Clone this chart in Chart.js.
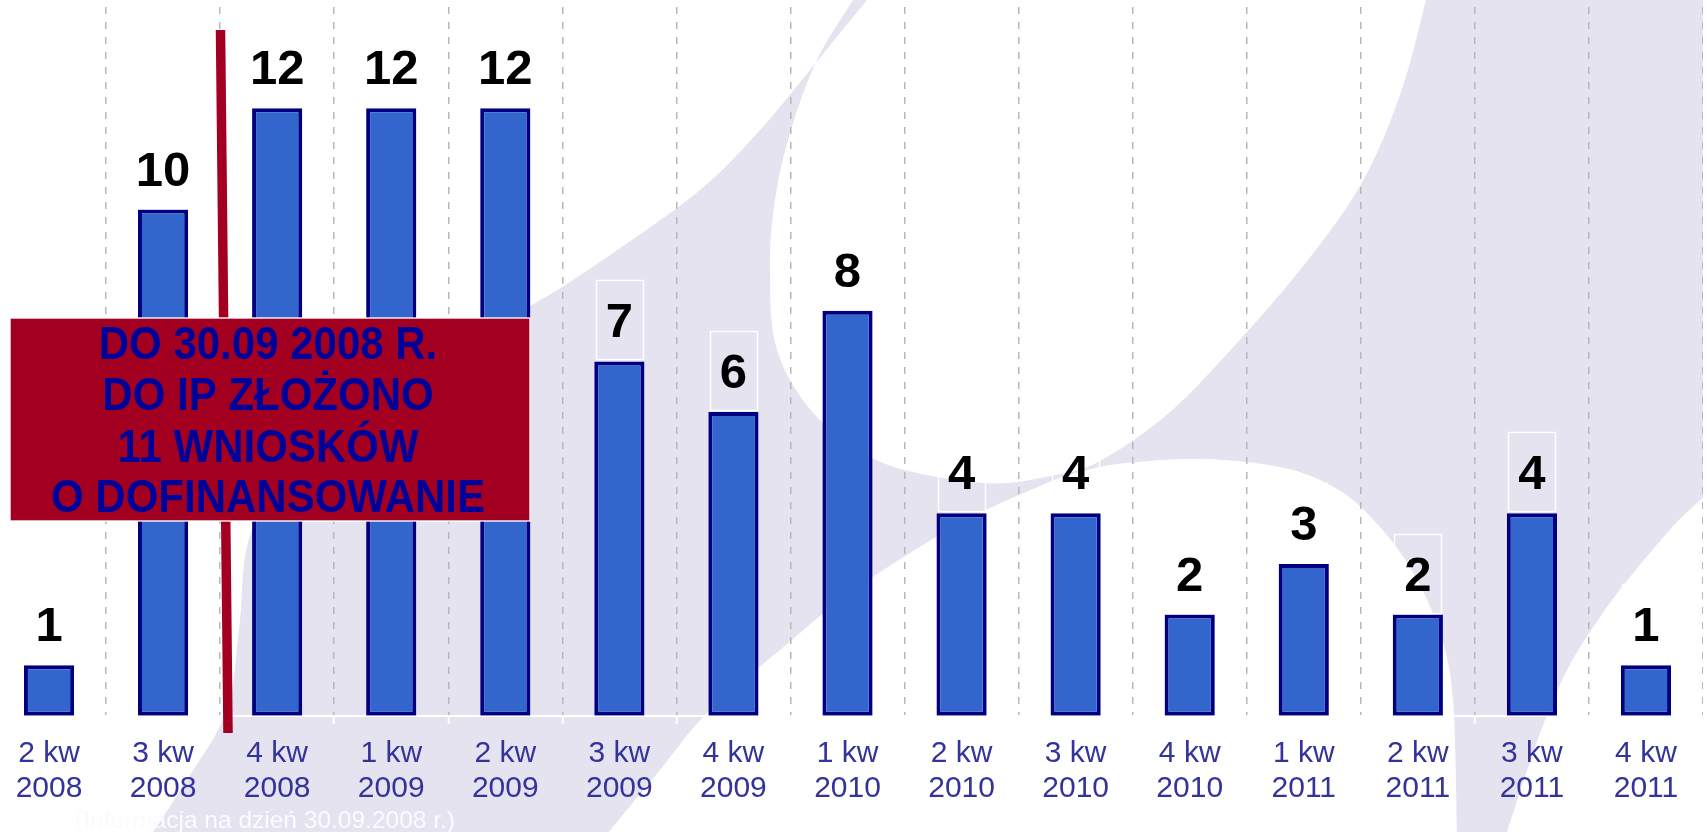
<!DOCTYPE html>
<html>
<head>
<meta charset="utf-8">
<script src="https://cdn.jsdelivr.net/npm/chart.js@4/dist/chart.umd.min.js"></script>
<style>
  html, body { margin: 0; padding: 0; background: #ffffff; overflow: hidden; }
  #wrap { position: absolute; left: -8px; top: 0; width: 1711px; height: 832px; }
  canvas { display: block; }
</style>
</head>
<body>
<div id="wrap"><canvas id="c" width="1711" height="832"></canvas></div>
<script>
// ---- data ----
const categories = [
  ["2 kw", "2008"], ["3 kw", "2008"], ["4 kw", "2008"], ["1 kw", "2009"], ["2 kw", "2009"],
  ["3 kw", "2009"], ["4 kw", "2009"], ["1 kw", "2010"], ["2 kw", "2010"], ["3 kw", "2010"],
  ["4 kw", "2010"], ["1 kw", "2011"], ["2 kw", "2011"], ["3 kw", "2011"], ["4 kw", "2011"]
];
const values = [1, 10, 12, 12, 12, 7, 6, 8, 4, 4, 2, 3, 2, 4, 1];
const noteLines = ["DO 30.09 2008 R.", "DO IP ZŁOŻONO", "11 WNIOSKÓW", "O DOFINANSOWANIE"];
const footnote = "(Informacja na dzień 30.09.2008 r.)";

const FONT = '"Liberation Sans", Arial, Helvetica, sans-serif';
const OFFSET_X = 8; // canvas x = page x + 8

function spline(ctx, pts, move) {
  if (move) ctx.moveTo(pts[0][0], pts[0][1]); else ctx.lineTo(pts[0][0], pts[0][1]);
  for (let i = 0; i < pts.length - 1; i++) {
    const p0 = pts[i - 1] || pts[i], p1 = pts[i], p2 = pts[i + 1], p3 = pts[i + 2] || pts[i + 1];
    ctx.bezierCurveTo(
      p1[0] + (p2[0] - p0[0]) / 6, p1[1] + (p2[1] - p0[1]) / 6,
      p2[0] - (p3[0] - p1[0]) / 6, p2[1] - (p3[1] - p1[1]) / 6,
      p2[0], p2[1]);
  }
}

const backgroundPlugin = {
  id: 'bgSwoosh',
  beforeDraw(chart) {
    const ctx = chart.ctx;
    ctx.save();
    ctx.translate(OFFSET_X, 0);
    ctx.fillStyle = '#ffffff';
    ctx.fillRect(-20, -20, 1760, 880);
    const c1 = [[880, -15], [867, 0], [810, 70], [760, 130], [700, 190], [610, 255], [530, 306],
                [420, 360], [310, 440], [252, 530], [240, 620], [232, 690], [218, 730], [190, 775], [153, 832], [130, 860]];
    const w1 = [[862, -15], [853, 0], [817, 60], [790, 133], [775, 200], [770, 267], [777, 350], [817, 417],
                [883, 463], [983, 483], [1050, 476], [1100, 461], [1170, 412], [1235, 345], [1300, 270],
                [1360, 186], [1400, 95], [1426, 0], [1430, -15]];
    ctx.beginPath();
    spline(ctx, c1, true);
    ctx.lineTo(1760, 860); ctx.lineTo(1760, -15); ctx.closePath();
    spline(ctx, w1, true);
    ctx.closePath();
    ctx.fillStyle = '#e6e3f0';
    ctx.fill('evenodd');
    const w2 = [[590, 860], [609, 832], [660, 770], [707, 713], [780, 650], [854, 590], [957, 525],
                [1040, 486], [1080, 472], [1126, 463], [1203, 459], [1280, 467], [1330, 485], [1367, 513],
                [1410, 567], [1440, 633], [1453, 700], [1457, 832], [1458, 860]];
    ctx.beginPath();
    spline(ctx, w2, true);
    ctx.closePath();
    ctx.fillStyle = '#ffffff';
    ctx.fill();
    const w3 = [[1730, 470], [1708, 493], [1667, 533], [1600, 617], [1553, 700], [1507, 832], [1500, 860]];
    ctx.beginPath();
    spline(ctx, w3, true);
    ctx.lineTo(1760, 860); ctx.lineTo(1760, 470); ctx.closePath();
    ctx.fill();
    ctx.restore();
  }
};

const labelPlugin = {
  id: 'valueLabels',
  afterDatasetsDraw(chart) {
    const ctx = chart.ctx;
    const meta = chart.getDatasetMeta(0);
    ctx.save();
    ctx.font = 'bold 49px ' + FONT;
    meta.data.forEach((bar, i) => {
      const txt = String(values[i]);
      const w = ctx.measureText(txt).width + 20;
      ctx.strokeStyle = 'rgba(255,255,255,0.95)';
      ctx.lineWidth = 1.5;
      ctx.strokeRect(Math.round(bar.x - w / 2) + 0.5, Math.round(bar.y - 81) + 0.5, Math.round(w), 79);
      ctx.fillStyle = '#000000';
      ctx.textAlign = 'center';
      ctx.textBaseline = 'alphabetic';
      ctx.fillText(txt, bar.x, bar.y - 24);
    });
    ctx.restore();
  },
  afterDraw(chart) {
    const ctx = chart.ctx;
    ctx.save();
    ctx.translate(OFFSET_X, 0);
    ctx.strokeStyle = '#a30021';
    ctx.lineWidth = 9.5;
    ctx.beginPath();
    ctx.moveTo(220.5, 30);
    ctx.lineTo(228, 733);
    ctx.stroke();
    ctx.fillStyle = '#a30021';
    ctx.fillRect(10, 318, 520, 203);
    ctx.strokeStyle = 'rgba(255,255,255,0.9)';
    ctx.lineWidth = 1.5;
    ctx.strokeRect(10, 318, 520, 203);
    ctx.fillStyle = '#000099';
    ctx.font = 'bold 42px ' + FONT;
    ctx.textAlign = 'center';
    ctx.textBaseline = 'alphabetic';
    const baselines = [359, 410, 462, 512];
    noteLines.forEach((t, i) => {
      ctx.save();
      ctx.translate(268, baselines[i]);
      ctx.scale(1, 1.08);
      ctx.fillText(t, 0, 0);
      ctx.restore();
    });
    ctx.fillStyle = '#fafaff';
    ctx.font = '24.5px ' + FONT;
    ctx.textAlign = 'left';
    ctx.fillText(footnote, 75, 828);
    ctx.restore();
  }
};

new Chart(document.getElementById('c'), {
  type: 'bar',
  data: {
    labels: categories,
    datasets: [{
      data: values,
      backgroundColor: '#3366cc',
      borderColor: '#000080',
      borderWidth: 4,
      borderSkipped: false,
      categoryPercentage: 1.0,
      barPercentage: 0.44
    }]
  },
  options: {
    responsive: false,
    animation: false,
    devicePixelRatio: 1,
    layout: { padding: { top: 7, bottom: 14, left: 0, right: 0 } },
    plugins: { legend: { display: false }, tooltip: { enabled: false } },
    scales: {
      x: {
        offset: true,
        grid: {
          offset: true,
          color: '#b8b8b8',
          lineWidth: 1.5,
          tickColor: '#ffffff',
          tickLength: 8,
          tickWidth: 2
        },
        border: { display: true, color: '#ffffff', width: 2, dash: [7, 8] },
        ticks: {
          color: '#333399',
          font: { family: FONT, size: 30, lineHeight: 1.17 },
          padding: 12,
          maxRotation: 0,
          autoSkip: false
        }
      },
      y: { display: false, min: 0, max: 14 }
    }
  },
  plugins: [backgroundPlugin, labelPlugin]
});
</script>
</body>
</html>
